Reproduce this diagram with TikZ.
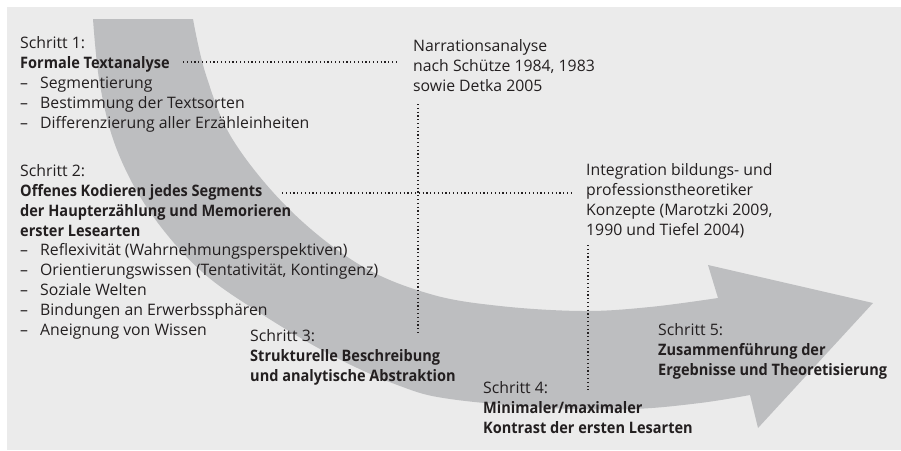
\documentclass[tikz,border=0pt]{standalone}
\usepackage{fontspec}
\setmainfont{Open Sans}[BoldFeatures={FakeStretch=0.92}]
\definecolor{panel}{HTML}{EBEBEB}
\definecolor{band}{HTML}{BDBEC0}
\definecolor{ink}{HTML}{231F20}
\newcommand{\itemdash}{\makebox[20pt][l]{–}}
\begin{document}
\begin{tikzpicture}[x=1pt,y=-1pt,
  txt/.style={anchor=base west, inner sep=0pt, align=left, text=ink,
    font=\fontsize{15.8}{19.8}\selectfont},
  guide/.style={draw=ink, line width=1.1pt, dash pattern=on 1.1pt off 2.7pt},
]
\useasboundingbox (0,0) rectangle (901,450);
\fill[white] (0,0) rectangle (901,450);
\fill[panel] (7,7) rectangle (901,450);

% curved process arrow
\fill[band] (93,19) -- (193,19)
  -- plot[smooth, tension=0.6] coordinates {(193,19) (206,75) (233,140) (290,210) (360,265) (430,294) (500,306) (583,311) (650,307) (718,298)}
  -- (708,265) -- (873,303) -- (758,428) -- (750,395)
  -- plot[smooth, tension=0.6] coordinates {(750,395) (700,403) (633,409) (550,408) (450,399) (400,386) (333,356) (260,313) (200,270) (150,212) (117,150) (100,85) (93,19)}
  -- cycle;

% multi-line nodes sit on the baseline of their last line
% step 1
\node[txt] (s1) at (20,128) {Schritt 1:\\
  \textbf{Formale Textanalyse}\\
  \itemdash Segmentierung\\
  \itemdash Bestimmung der Textsorten\\
  \itemdash Differenzierung aller Erzähleinheiten};

% step 2
\node[txt] (s2) at (20,335) {Schritt 2:\\
  \textbf{Offenes Kodieren jedes Segments}\\
  \textbf{der Haupterzählung und Memorieren}\\
  \textbf{erster Lesearten}\\
  \itemdash Reflexivität (Wahrnehmungsperspektiven)\\
  \itemdash Orientierungswissen (Tentativität, Kontingenz)\\
  \itemdash Soziale Welten\\
  \itemdash Bindungen an Erwerbssphären\\
  \itemdash Aneignung von Wissen};

% step 3
\node[txt] (s3) at (250,381) {Schritt 3:\\
  \textbf{Strukturelle Beschreibung}\\
  \textbf{und analytische Abstraktion}};

% step 4
\node[txt] (s4) at (483,433) {Schritt 4:\\
  \textbf{Minimaler/maximaler}\\
  \textbf{Kontrast der ersten Lesarten}};

% step 5
\node[txt] (s5) at (658,375) {Schritt 5:\\
  \textbf{Zusammenführung der}\\
  \textbf{Ergebnisse und Theoretisierung}};

% references
\node[txt] (ref1) at (413,91) {Narrationsanalyse\\
  nach Schütze 1984, 1983\\
  sowie Detka 2005};
\node[txt] (ref2) at (586,235) {Integration bildungs- und\\
  professionstheoretiker\\
  Konzepte (Marotzki 2009,\\
  1990 und Tiefel 2004)};

% dotted guide lines
\coordinate (g1a) at (183,62);
\coordinate (g1b) at (397,62);
\coordinate (g1c) at (418,104);
\coordinate (g1d) at (418,335);
\coordinate (g2a) at (282,193);
\coordinate (g2b) at (572,193);
\coordinate (g2c) at (588,245);
\coordinate (g2d) at (588,390);
\draw[guide] (g1a) -- (g1b);
\draw[guide] (g1c) -- (g1d);
\draw[guide] (g2a) -- (g2b);
\draw[guide] (g2c) -- (g2d);
\end{tikzpicture}
\end{document}
